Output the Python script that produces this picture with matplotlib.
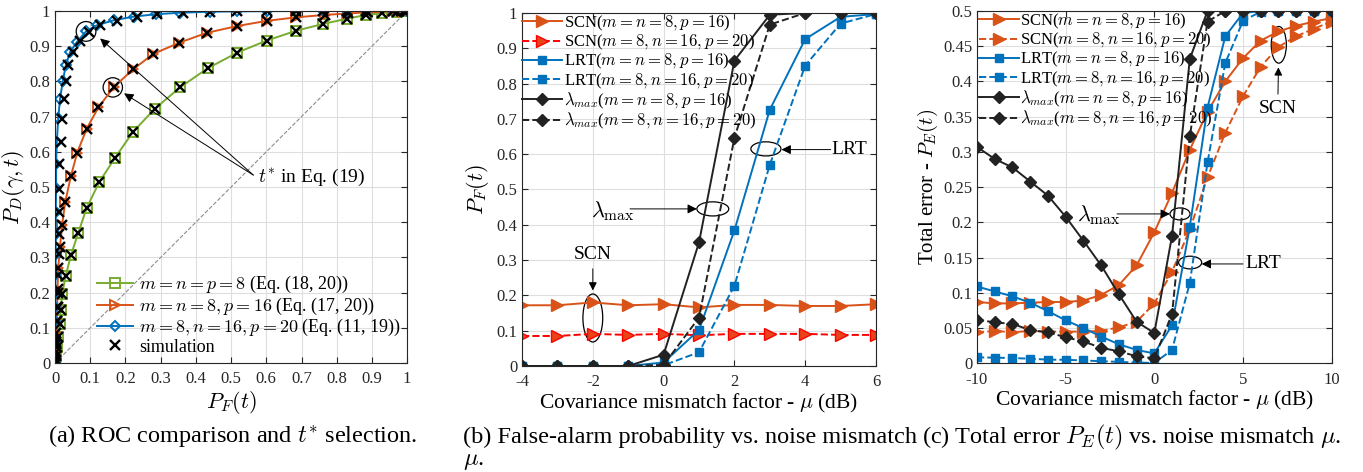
import numpy as np
import matplotlib.pyplot as plt
from matplotlib.patches import Ellipse
from matplotlib.ticker import FuncFormatter

plt.rcParams['font.family'] = ['Liberation Serif', 'DejaVu Serif']
plt.rcParams['mathtext.fontset'] = 'cm'
plt.rcParams['axes.unicode_minus'] = False

BLUE = '#0072BD'
ORANGE = '#D95319'
GREEN = '#77AC30'
TXT = '#262626'

# ---- (a) ROC curves
pf_a1 = [1.0, 0.99, 0.97, 0.93, 0.884, 0.829, 0.760, 0.685, 0.601, 0.518, 0.433, 0.355, 0.284, 0.221,
         0.169, 0.125, 0.090, 0.066, 0.045, 0.030, 0.020, 0.016, 0.013, 0.009, 0.006, 0.003, 0.001, 0.0]
pd_a1 = [1.0, 1.0, 0.998, 0.994, 0.989, 0.978, 0.963, 0.944, 0.916, 0.882, 0.837, 0.783, 0.723, 0.656,
         0.581, 0.513, 0.441, 0.370, 0.306, 0.247, 0.195, 0.152, 0.110, 0.075, 0.045, 0.020, 0.005, 0.0]

pf_a2 = [1.0, 0.99, 0.96, 0.886, 0.833, 0.767, 0.685, 0.601, 0.516, 0.431, 0.353, 0.279, 0.221, 0.166,
         0.123, 0.090, 0.063, 0.045, 0.029, 0.020, 0.014, 0.009, 0.007, 0.006, 0.005, 0.004, 0.003, 0.002,
         0.001, 0.0]
pd_a2 = [1.0, 1.0, 0.999, 0.996, 0.993, 0.989, 0.982, 0.972, 0.957, 0.938, 0.910, 0.878, 0.834, 0.783,
         0.726, 0.666, 0.598, 0.531, 0.458, 0.392, 0.330, 0.269, 0.210, 0.160, 0.120, 0.085, 0.055, 0.030,
         0.010, 0.0]

pf_a3 = [1.0, 0.96, 0.884, 0.829, 0.760, 0.685, 0.601, 0.518, 0.440, 0.355, 0.287, 0.224, 0.168, 0.120,
         0.088, 0.063, 0.043, 0.031, 0.022, 0.014, 0.009, 0.005, 0.003, 0.003, 0.002, 0.002, 0.002, 0.001,
         0.001, 0.001, 0.0, 0.0, 0.0]
pd_a3 = [1.0, 1.0, 1.0, 1.0, 1.0, 1.0, 0.9995, 0.999, 0.998, 0.995, 0.991, 0.984, 0.974, 0.960,
         0.942, 0.913, 0.884, 0.847, 0.802, 0.749, 0.695, 0.629, 0.565, 0.496, 0.430, 0.366, 0.310, 0.250,
         0.200, 0.160, 0.120, 0.060, 0.0]
sim_pf3 = [1.0, 0.96, 0.884, 0.829, 0.760, 0.685, 0.601, 0.518, 0.440, 0.363, 0.289, 0.232, 0.177, 0.128,
           0.097, 0.071, 0.050, 0.038, 0.031, 0.024, 0.019, 0.016, 0.012, 0.011, 0.010, 0.010, 0.010, 0.009,
           0.008, 0.007, 0.006, 0.004, 0.002]
sim_pd3 = [1.0, 1.0, 1.0, 1.0, 1.0, 1.0, 0.9995, 0.999, 0.996, 0.993, 0.991, 0.984, 0.972, 0.960,
           0.941, 0.916, 0.884, 0.847, 0.802, 0.749, 0.693, 0.629, 0.566, 0.493, 0.430, 0.366, 0.310, 0.250,
           0.200, 0.160, 0.120, 0.060, 0.0]

# ---- (b) false alarm vs mismatch
mu_b = [-4, -3, -2, -1, 0, 1, 2, 3, 4, 5, 6]
scn_b1 = [0.172, 0.172, 0.180, 0.172, 0.175, 0.166, 0.173, 0.173, 0.170, 0.170, 0.175]
scn_b2 = [0.085, 0.085, 0.091, 0.088, 0.091, 0.087, 0.091, 0.091, 0.091, 0.088, 0.088]
lrt_b1 = [0, 0, 0, 0, 0.010, 0.102, 0.384, 0.726, 0.926, 0.989, 0.997]
lrt_b2 = [0, 0, 0, 0, 0.002, 0.039, 0.227, 0.570, 0.851, 0.970, 0.997]
lam_b1 = [0, 0, 0, 0, 0.032, 0.350, 0.865, 0.995, 1.0, 1.0, 1.0]
lam_b2 = [0, 0, 0, 0, 0.003, 0.137, 0.646, 0.967, 1.0, 1.0, 1.0]

# ---- (c) total error vs mismatch
mu_c = list(range(-10, 11))
scn_c1 = [0.087, 0.085, 0.085, 0.086, 0.087, 0.087, 0.089, 0.097, 0.111, 0.139, 0.186, 0.242, 0.303,
          0.357, 0.400, 0.433, 0.458, 0.471, 0.479, 0.485, 0.490]
scn_c2 = [0.044, 0.046, 0.044, 0.046, 0.045, 0.045, 0.045, 0.046, 0.051, 0.059, 0.085, 0.130, 0.190,
          0.264, 0.327, 0.379, 0.421, 0.449, 0.464, 0.475, 0.485]
lrt_c1 = [0.109, 0.102, 0.095, 0.086, 0.074, 0.061, 0.050, 0.038, 0.027, 0.019, 0.014, 0.054, 0.194,
          0.363, 0.464, 0.497, 0.5, 0.5, 0.5, 0.5, 0.5]
lrt_c2 = [0.0085, 0.008, 0.0075, 0.0065, 0.0052, 0.005, 0.004, 0.003, 0.002, 0.001, 0.0005, 0.019, 0.114,
          0.285, 0.426, 0.486, 0.499, 0.5, 0.5, 0.5, 0.5]
lam_c1 = [0.307, 0.290, 0.278, 0.258, 0.238, 0.208, 0.174, 0.139, 0.098, 0.059, 0.043, 0.181, 0.432,
          0.5, 0.5, 0.5, 0.5, 0.5, 0.5, 0.5, 0.5]
lam_c2 = [0.062, 0.058, 0.056, 0.047, 0.044, 0.037, 0.031, 0.022, 0.017, 0.010, 0.007, 0.070, 0.322,
          0.485, 0.5, 0.5, 0.5, 0.5, 0.5, 0.5, 0.5]

lab_a = [r'$m = n = p = 8$ (Eq. (18, 20))',
         r'$m = n = 8, p = 16$ (Eq. (17, 20))',
         r'$m = 8, n = 16, p = 20$ (Eq. (11, 19))',
         'simulation']
lab_bc = [r'SCN($m = n = 8, p = 16$)',
          r'SCN($m = 8, n = 16, p = 20$)',
          r'LRT($m = n = 8, p = 16$)',
          r'LRT($m = 8, n = 16, p = 20$)',
          r'$\lambda_{max}$($m = n = 8, p = 16$)',
          r'$\lambda_{max}$($m = 8, n = 16, p = 20$)']

fmt = FuncFormatter(lambda v, p: '%g' % round(v, 4))


def style(ax):
    ax.grid(True, color='#dedede', linewidth=0.8)
    ax.set_axisbelow(True)
    ax.tick_params(direction='in', top=True, right=True, labelsize=12, colors=TXT, length=4)
    ax.tick_params(axis='x', pad=6)
    for s in ax.spines.values():
        s.set_color(TXT)
        s.set_linewidth(0.8)
    ax.xaxis.set_major_formatter(fmt)
    ax.yaxis.set_major_formatter(fmt)


arrow = dict(arrowstyle='-|>', color='black', lw=0.7, mutation_scale=14, shrinkA=0, shrinkB=0)

fig = plt.figure(figsize=(13.63, 4.72), dpi=100)
ax1 = fig.add_axes([0.0404, 0.2309, 0.2583, 0.7458])
ax2 = fig.add_axes([0.3830, 0.2246, 0.2597, 0.7479])
ax3 = fig.add_axes([0.7168, 0.2303, 0.2602, 0.7464])

# ----- panel a
ax1.plot([0, 1], [0, 1], '--', color='#8c8c8c', lw=0.8)
h1, = ax1.plot(pf_a1, pd_a1, '-s', color=GREEN, lw=1.4, ms=7, mfc='none', mew=1.4)
h2, = ax1.plot(pf_a2, pd_a2, '->', color=ORANGE, lw=1.4, ms=7, mfc='none', mew=1.4)
h3, = ax1.plot(pf_a3, pd_a3, '-D', color=BLUE, lw=1.4, ms=5.5, mfc='none', mew=1.4)
h4, = ax1.plot(pf_a1, pd_a1, 'x', color='black', ms=6.5, mew=1.7)
ax1.plot(pf_a2, pd_a2, 'x', color='black', ms=6.5, mew=1.7)
ax1.plot(sim_pf3, sim_pd3, 'x', color='black', ms=6.5, mew=1.7)
ax1.set_xlim(0, 1)
ax1.set_ylim(0, 1)
ax1.set_xticks(np.arange(0, 1.01, 0.1))
ax1.set_yticks(np.arange(0, 1.01, 0.1))
style(ax1)
ax1.set_xlabel(r'$P_F(t)$', fontsize=16, labelpad=1)
ax1.set_ylabel(r'$P_D(\gamma, t)$', fontsize=16, labelpad=2)
ax1.add_patch(Ellipse((0.088, 0.942), 0.056, 0.056, fill=False, ec='black', lw=0.9))
ax1.add_patch(Ellipse((0.164, 0.783), 0.055, 0.055, fill=False, ec='black', lw=0.9))
ax1.annotate('', xy=(0.128, 0.922), xytext=(0.563, 0.534), arrowprops=arrow)
ax1.annotate('', xy=(0.196, 0.766), xytext=(0.563, 0.534), arrowprops=arrow)
ax1.text(0.577, 0.528, r'$t^{*}$ in Eq. (19)', fontsize=14, va='center', ha='left')
ax1.legend([h1, h2, h3, h4], lab_a, loc='upper left', bbox_to_anchor=(0.12, 0.252),
           frameon=False, fontsize=13, handlelength=2.0, handletextpad=0.3,
           labelspacing=0.02, borderpad=0, borderaxespad=0)

# ----- panel b
ax2.plot(mu_b, scn_b1, '->', color=ORANGE, lw=1.4, ms=8, label=lab_bc[0])
ax2.plot(mu_b, scn_b2, '-->', color='red', mfc='#E8441A', mec='red', lw=1.4, ms=8, label=lab_bc[1])
ax2.plot(mu_b, lrt_b1, '-s', color=BLUE, lw=1.4, ms=6, label=lab_bc[2])
ax2.plot(mu_b, lrt_b2, '--s', color=BLUE, lw=1.4, ms=6, label=lab_bc[3])
ax2.plot(mu_b, lam_b1, '-D', color='#222222', lw=1.4, ms=6, label=lab_bc[4])
ax2.plot(mu_b, lam_b2, '--D', color='#222222', lw=1.4, ms=6, label=lab_bc[5])
ax2.set_xlim(-4, 6)
ax2.set_ylim(0, 1)
ax2.set_xticks([-4, -2, 0, 2, 4, 6])
ax2.set_yticks(np.arange(0, 1.01, 0.1))
style(ax2)
ax2.set_xlabel(r'Covariance mismatch factor - $\mu$ (dB)', fontsize=15.5, labelpad=1)
ax2.set_ylabel(r'$P_F(t)$', fontsize=16, labelpad=4)
ax2.legend(loc='upper left', bbox_to_anchor=(0.0, 0.998), frameon=False, fontsize=12,
           handlelength=2.4, handletextpad=0.1, labelspacing=0.0, borderpad=0, borderaxespad=0)
ax2.add_patch(Ellipse((-2.0, 0.136), 0.56, 0.136, fill=False, ec='black', lw=0.9))
ax2.annotate('SCN', xy=(-2.0, 0.206), xytext=(-2.0, 0.315), fontsize=14, ha='center', va='center',
             arrowprops=dict(arrowstyle='-|>', color='black', lw=0.7, mutation_scale=12))
ax2.add_patch(Ellipse((1.39, 0.445), 0.9, 0.04, fill=False, ec='black', lw=0.9))
ax2.annotate('', xy=(0.94, 0.445), xytext=(-0.95, 0.445), arrowprops=arrow)
ax2.text(-1.43, 0.44, r'$\lambda_{\mathrm{max}}$', fontsize=16, ha='center', va='center')
ax2.add_patch(Ellipse((2.89, 0.615), 0.85, 0.04, fill=False, ec='black', lw=0.9))
ax2.annotate('', xy=(3.33, 0.613), xytext=(4.72, 0.613), arrowprops=arrow)
ax2.text(4.75, 0.613, 'LRT', fontsize=14, ha='left', va='center')

# ----- panel c
ax3.plot(mu_c, scn_c1, '->', color=ORANGE, lw=1.4, ms=8, label=lab_bc[0])
ax3.plot(mu_c, scn_c2, '-->', color=ORANGE, lw=1.4, ms=8, label=lab_bc[1])
ax3.plot(mu_c, lrt_c1, '-s', color=BLUE, lw=1.4, ms=6, label=lab_bc[2])
ax3.plot(mu_c, lrt_c2, '--s', color=BLUE, lw=1.4, ms=6, label=lab_bc[3])
ax3.plot(mu_c, lam_c1, '-D', color='#222222', lw=1.4, ms=6, label=lab_bc[4])
ax3.plot(mu_c, lam_c2, '--D', color='#222222', lw=1.4, ms=6, label=lab_bc[5])
ax3.set_xlim(-10, 10)
ax3.set_ylim(0, 0.5)
ax3.set_xticks([-10, -5, 0, 5, 10])
ax3.set_yticks(np.arange(0, 0.501, 0.05))
style(ax3)
ax3.set_xlabel(r'Covariance mismatch factor - $\mu$ (dB)', fontsize=15.5, labelpad=1)
ax3.set_ylabel(r'Total error - $P_E(t)$', fontsize=15, labelpad=2)
ax3.legend(loc='upper left', bbox_to_anchor=(0.005, 0.998), frameon=False, fontsize=12,
           handlelength=2.4, handletextpad=0.1, labelspacing=0.0, borderpad=0, borderaxespad=0)
ax3.add_patch(Ellipse((7.02, 0.452), 0.85, 0.052, fill=False, ec='black', lw=0.9))
ax3.annotate('SCN', xy=(7.0, 0.424), xytext=(6.96, 0.362), fontsize=14, ha='center', va='center',
             arrowprops=dict(arrowstyle='-|>', color='black', lw=0.7, mutation_scale=12))
ax3.add_patch(Ellipse((1.45, 0.212), 1.13, 0.017, fill=False, ec='black', lw=0.9))
ax3.annotate('', xy=(0.88, 0.212), xytext=(-2.1, 0.212), arrowprops=arrow)
ax3.text(-3.14, 0.21, r'$\lambda_{\mathrm{max}}$', fontsize=16, ha='center', va='center')
ax3.add_patch(Ellipse((2.02, 0.143), 1.3, 0.018, fill=False, ec='black', lw=0.9))
ax3.annotate('', xy=(2.67, 0.141), xytext=(5.0, 0.141), arrowprops=arrow)
ax3.text(5.15, 0.141, 'LRT', fontsize=14, ha='left', va='center')

# ----- captions
fig.text(48 / 1363, 1 - 437 / 472, r'(a) ROC comparison and $t^{*}$ selection.', fontsize=17.5, va='center')
fig.text(463 / 1363, 1 - 437 / 472, '(b) False-alarm probability vs. noise mismatch', fontsize=17.5,
         va='center')
fig.text(463 / 1363, 1 - 462 / 472, r'$\mu$.', fontsize=17.5, va='center')
fig.text(922 / 1363, 1 - 437 / 472, r'(c) Total error $P_E(t)$ vs. noise mismatch $\mu$.', fontsize=17.5,
         va='center')

fig.savefig('out.png', dpi=100)
